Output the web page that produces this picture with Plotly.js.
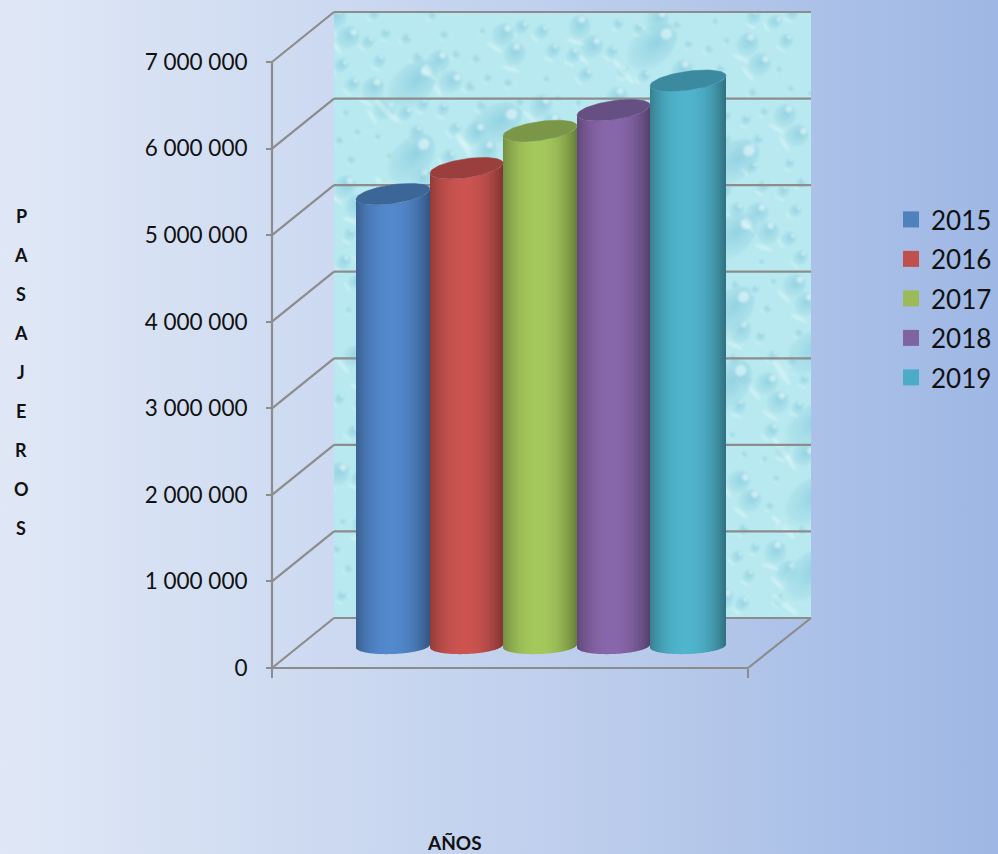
<!DOCTYPE html>
<html><head><meta charset="utf-8">
<script src="https://cdn.plot.ly/plotly-3.0.1.min.js"></script>
<style>html,body{margin:0;padding:0;width:998px;height:854px;overflow:hidden;background:linear-gradient(90deg,#e0e8f6 0%,#bccdec 60%,#9eb7e4 100%);}#chart{width:998px;height:854px;}</style>
</head><body><div id="chart"></div>
<script>
const years = ['2015','2016','2017','2018','2019'];
const passengers = [5220000, 5520000, 5950000, 6190000, 6530000];
const bodyColors = ['#5288cc','#cc5450','#a5c85c','#8866aa','#4fb4cc'];
const topColors = ['#3c6698','#9a3f3d','#7c9648','#664f82','#3c8aa0'];
const legendColors = ['#4f81bd','#c0504d','#9bbb59','#8064a2','#4bacc6'];
const tickValues = [0,1000000,2000000,3000000,4000000,5000000,6000000,7000000];
const tickLabels = ['0','1 000 000','2 000 000','3 000 000','4 000 000','5 000 000','6 000 000','7 000 000'];
const yTitleLetters = ['P','A','S','A','J','E','R','O','S'];
const xTitle = 'AÑOS';

// frame geometry (pixels per axis unit; x axis is in pixels)
const K = 86.57e-6, L = 262, R = 998, T = 10, B = 680, Y0 = 668, X0 = 272;
const depthX = 62, depthV = 50 / K, floorW = 476;
const cylW = 73.6, cylLeft = 84, midV = 22 / K;
const grey = '#8c8c8c';
const px = v => (v - L) / (R - L), py = v => 1 - (v - T) / (B - T);

function shade(hex, f) {
  const n = parseInt(hex.slice(1), 16);
  return 'rgb(' + [n >> 16, (n >> 8) & 255, n & 255].map(c => Math.round(c * f)).join(',') + ')';
}
function wallTexture() {
  const W = 477, H = 606, A1 = 0.7548776662, A2 = 0.5698402910;
  let d = '';
  for (let i = 1; i <= 420; i++) {
    const x = ((0.5 + i * A1) % 1) * W, y = ((0.5 + i * A2) % 1) * H;
    const big = i % 17 === 0, mid = i % 4 === 0;
    const r = big ? 19 : mid ? 11 : 3 + (i % 5);
    const rot = 15 + (i * 37) % 45;
    const ry = r * (big ? 1.7 : 1.2);
    d += `<g transform="translate(${x.toFixed(1)} ${y.toFixed(1)}) rotate(${rot})">` +
      `<ellipse rx="${r}" ry="${ry.toFixed(1)}" fill="url(#g)"/>` +
      `<ellipse cy="${(-ry * 0.68).toFixed(1)}" rx="${(r * 0.28).toFixed(1)}" ry="${(r * 0.3).toFixed(1)}" fill="#eefcfd" opacity="0.55"/>` +
      `<ellipse cy="${(ry * 1.08).toFixed(1)}" rx="${(r * 0.85).toFixed(1)}" ry="${(r * 0.16).toFixed(1)}" fill="#e4fafb" opacity="0.45"/>` +
      `</g>`;
  }
  const svg = `<svg xmlns="http://www.w3.org/2000/svg" width="${W}" height="${H}" viewBox="0 0 ${W} ${H}">` +
    `<defs><radialGradient id="g" cx="50%" cy="35%" r="75%"><stop offset="0" stop-color="#8accdf" stop-opacity="0.8"/><stop offset="0.65" stop-color="#a6dde7" stop-opacity="0.55"/><stop offset="1" stop-color="#dcf7f9" stop-opacity="0.3"/></radialGradient>` +
    `<filter id="b"><feGaussianBlur stdDeviation="0.9"/></filter></defs>` +
    `<rect width="${W}" height="${H}" fill="#b8e9f0"/><g filter="url(#b)">${d}</g></svg>`;
  return 'data:image/svg+xml;charset=utf-8,' + encodeURIComponent(svg);
}

const traces = [], topTraces = [], legendTraces = [];
passengers.forEach((val, s) => {
  // one 1-pixel slice per column of the cylinder, on whole pixels so the shading stays smooth
  const left = Math.round(cylLeft + s * cylW), right = Math.round(cylLeft + (s + 1) * cylW) + (s === 4 ? 2 : 0);
  const N = right - left, a = N / 2, cx = left + a, b = 9.5, bb = 8, rise = 5, riseB = 1.5;
  const xs = [], ys = [], bases = [], cols = [], ws = [];
  for (let i = 0; i < N; i++) {
    const t = -1 + (2 * i + 1) / N, u = (t + 1) / 2;
    const e = Math.sqrt(1 - t * t), d = Math.abs(u - 0.47) / 0.53;
    const f = 0.62 + 0.38 * (1 - Math.pow(d, 2.2));
    const base = midV + (-bb * e + riseB * t) / K;
    const top = val + midV + (-b * e + rise * t) / K;
    xs.push(left + i + 0.5); bases.push(base); ys.push(top - base);
    cols.push(shade(bodyColors[s], f)); ws.push(1);
  }
  traces.push({type:'bar', x:xs, y:ys, base:bases, width:ws, name:years[s], showlegend:false, hoverinfo:'skip',
    marker:{color:cols, line:{width:0}}});
  const ex = [], ey = [];
  for (let k = 0; k <= 72; k++) {
    const th = k / 72 * 2 * Math.PI, c = Math.cos(th);
    ex.push(cx + a * c); ey.push(val + midV + (b * Math.sin(th) + rise * c) / K);
  }
  topTraces.push({type:'scatter', mode:'lines', x:ex, y:ey, fill:'toself', fillcolor:topColors[s],
    line:{width:0.5, color:topColors[s]}, showlegend:false, hoverinfo:'skip'});
  legendTraces.push({type:'scatter', mode:'markers', x:[null], y:[null], name:years[s], legendgroup:years[s],
    marker:{symbol:'square', size:18, color:legendColors[s]}});
});

const line = (x0, y0, x1, y1) => ({type:'line', xref:'x', yref:'y', x0, y0, x1, y1, layer:'between', line:{color:grey, width:2.2}});
const shapes = [];
tickValues.forEach(v => {
  shapes.push(line(0, v, depthX, v + depthV));
  shapes.push(line(depthX, v + depthV, depthX + floorW + 1, v + depthV));
});
shapes.push(line(0, 0, 0, tickValues[tickValues.length - 1]));
shapes.push(line(0, 0, floorW, 0));
shapes.push(line(floorW, 0, floorW + depthX + 1, depthV));

const annotations = yTitleLetters.map((c, i) => ({
  text:c, xref:'paper', yref:'paper', x:px(21), y:py(216 + i * 39), showarrow:false, xanchor:'center', yanchor:'middle',
  font:{family:'Lato, sans-serif', size:18, color:'#111', weight:700}
}));
annotations.push({text:xTitle, xref:'paper', yref:'paper', x:px(454), y:py(842), showarrow:false, xanchor:'center', yanchor:'middle',
  font:{family:'Lato, sans-serif', size:19, color:'#111', weight:700}});

const layout = {
  width:998, height:854, paper_bgcolor:'rgba(0,0,0,0)', plot_bgcolor:'rgba(0,0,0,0)',
  margin:{l:L, r:998 - R, t:T, b:854 - B, pad:0}, barmode:'overlay',
  font:{family:'Lato, sans-serif', color:'#111'},
  xaxis:{range:[L - X0, R - X0], showgrid:false, zeroline:false, showline:false, anchor:'free', position:(B - Y0) / (B - T),
    tickmode:'array', tickvals:[0, floorW], ticktext:['',''], ticks:'outside', ticklen:9, tickwidth:2, tickcolor:grey, fixedrange:true},
  yaxis:{range:[(Y0 - B) / K, (Y0 - T) / K], showgrid:false, zeroline:false, showline:false, anchor:'free', position:(X0 - L) / (R - L),
    tickmode:'array', tickvals:tickValues, ticktext:tickLabels, ticks:'outside', ticklen:6, tickwidth:2, tickcolor:grey, ticklabelstandoff:14,
    tickfont:{family:'Lato, sans-serif', size:22.5, color:'#111'}, fixedrange:true},
  legend:{x:px(891), xanchor:'left', y:py(196), yanchor:'top', traceorder:'grouped', tracegroupgap:2.7, bgcolor:'rgba(0,0,0,0)',
    font:{family:'Lato, sans-serif', size:26, color:'#111'}, itemwidth:30, itemclick:false, itemdoubleclick:false},
  images:[{source:wallTexture(), xref:'x', yref:'y', x:depthX, y:tickValues[tickValues.length - 1] + depthV, sizex:floorW + 1,
    sizey:tickValues[tickValues.length - 1], sizing:'stretch', xanchor:'left', yanchor:'top', layer:'below'}],
  shapes, annotations, showlegend:true
};
Plotly.newPlot('chart', traces.concat(topTraces, legendTraces), layout, {displayModeBar:false, staticPlot:false});
</script></body></html>
